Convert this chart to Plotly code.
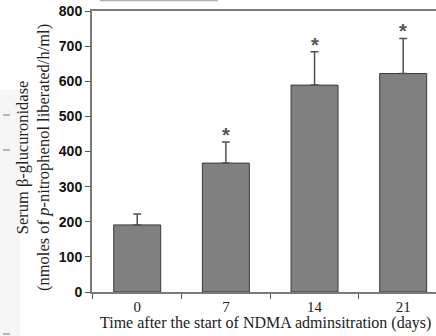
import plotly.graph_objects as go

days = ["0", "7", "14", "21"]
means = [191, 367, 589, 622]
sd_plus = [31, 60, 95, 100]
sig = ["", "*", "*", "*"]
y_ticks = [0, 100, 200, 300, 400, 500, 600, 700, 800]

W, H = 436, 336
L, R, T, B = 92, 0, 11, 44
PW, PH = W - L - R, H - T - B

def px(x):
    return (x - L) / PW

def py(y):
    return (H - B - y) / PH

fig = go.Figure()
fig.add_trace(go.Bar(
    x=days, y=means, width=0.53,
    marker=dict(color="#808080", line=dict(color="#3a3a3a", width=1)),
    error_y=dict(type="data", array=sd_plus, symmetric=False, arrayminus=[0]*4,
                 color="#505050", thickness=1.5, width=4),
    showlegend=False,
))

for i, (m, s, t) in enumerate(zip(means, sd_plus, sig)):
    if t:
        fig.add_annotation(x=i, y=m + s, xref="x", yref="y", text=t, showarrow=False,
                           yanchor="bottom", yshift=-6,
                           font=dict(family="Arial", size=20, color="#555555", weight="bold"))

fig.update_layout(
    width=W, height=H,
    margin=dict(l=L, r=R, t=T, b=B),
    paper_bgcolor="white", plot_bgcolor="white",
    xaxis=dict(
        type="category", range=[-0.51, 3.37], automargin=False,
        showline=True, linecolor="#7a7a7a", linewidth=2, mirror=True,
        ticks="outside", tickson="boundaries", ticklen=5, tickcolor="#555555",
        tickfont=dict(family="Liberation Serif", size=15, color="#222222"),
        showgrid=False, zeroline=False,
    ),
    yaxis=dict(
        range=[0, 800], tickvals=y_ticks, automargin=False,
        showline=True, linecolor="#7a7a7a", linewidth=2,
        ticks="outside", ticklen=5, tickcolor="#555555",
        tickfont=dict(family="Arial", size=14, color="#111111", weight="bold"),
        showgrid=False, zeroline=False,
    ),
    bargap=0.47,
)

# axis titles
fig.add_annotation(xref="paper", yref="paper", x=px(265), y=py(323),
                   xanchor="center", yanchor="middle", showarrow=False,
                   text="Time after the start of NDMA adminsitration (days)",
                   font=dict(family="Liberation Serif", size=16, color="#222222"))
fig.add_annotation(xref="paper", yref="paper", x=px(33), y=py(158),
                   xanchor="center", yanchor="middle", showarrow=False, textangle=-90,
                   text="Serum β-glucuronidase<br>(nmoles of <i>p</i>-nitrophenol liberated/h/ml)",
                   font=dict(family="Liberation Serif", size=16.5, color="#222222"))

# faint remnants of adjoining figure
fig.add_shape(type="rect", xref="paper", yref="paper", x0=px(0), x1=px(20),
              y0=py(H), y1=py(90), fillcolor="#f6f6f6", line=dict(width=0), layer="below")
for yy in [115, 150, 334]:
    fig.add_shape(type="line", xref="paper", yref="paper",
                  x0=px(3), x1=px(10), y0=py(yy), y1=py(yy),
                  line=dict(color="#777777", width=1))
fig.add_shape(type="line", xref="paper", yref="paper",
              x0=px(100), x1=px(218), y0=py(0.5), y1=py(0.5),
              line=dict(color="#b0b0b0", width=1.5))

fig.write_html("out.html", config={"displayModeBar": False},
               post_script="document.body.style.margin='0';document.body.style.padding='0';")
